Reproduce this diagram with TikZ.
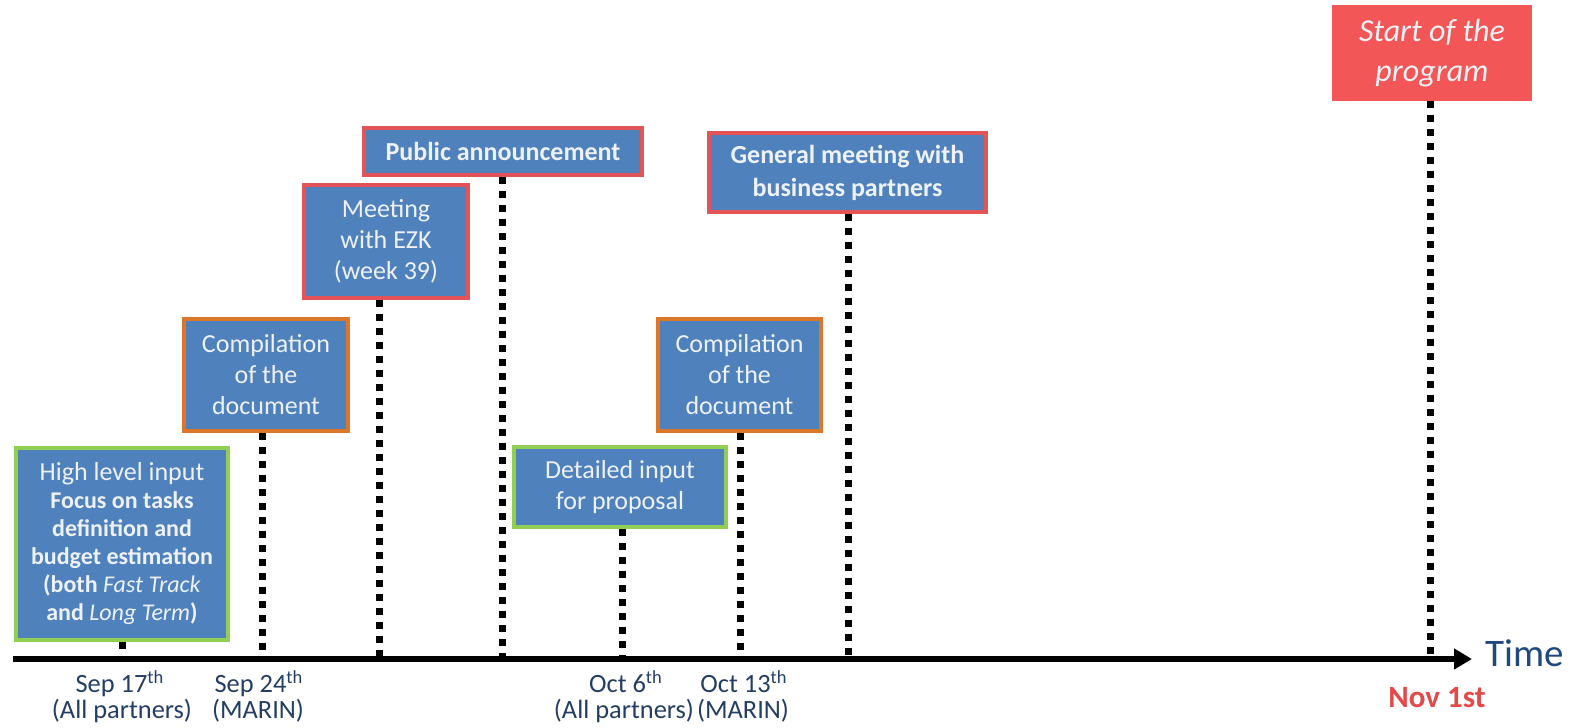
\documentclass[tikz,border=0pt]{standalone}
\usepackage{fontspec}
\setmainfont{Carlito}
\usetikzlibrary{arrows.meta}

\definecolor{boxblue}{RGB}{79,129,189}
\definecolor{boxtext}{RGB}{238,242,246}
\definecolor{redline}{RGB}{226,84,88}
\definecolor{greenline}{RGB}{146,206,84}
\definecolor{orangeline}{RGB}{220,118,40}
\definecolor{startred}{RGB}{242,86,86}
\definecolor{datetext}{RGB}{35,62,98}
\definecolor{timetext}{RGB}{31,73,125}
\definecolor{novred}{RGB}{228,72,72}

\begin{document}
\begin{tikzpicture}[x=0.5pt,y=-0.5pt]
	% styles for the boxes, the dotted markers and the labels
	\tikzset{
		event/.style={draw=#1, fill=boxblue, line width=2pt, text=boxtext,
			align=center, inner sep=0pt, font=\fontsize{13}{15.5}\selectfont},
		marker/.style={line width=3.5pt, dash pattern=on 3.5pt off 3.5pt},
		timeaxis/.style={line width=3pt, -{Triangle[length=9pt,width=10pt]}},
		datelbl/.style={text=datetext, anchor=base, inner sep=0pt,
			font=\fontsize{13.2}{15}\selectfont}
	}

	% fix the page to the reference size
	\useasboundingbox (0,0) rectangle (1571,728);

	% points on the time axis
	\coordinate (origin) at (13,659);
	\coordinate (tip) at (1472,659);
	\coordinate (sep17) at (122,659);
	\coordinate (sep24) at (262,659);
	\coordinate (wk39) at (379,659);
	\coordinate (ann) at (502,659);
	\coordinate (oct6) at (622,659);
	\coordinate (oct13) at (740,659);
	\coordinate (gen) at (848,659);
	\coordinate (nov1) at (1430,659);

	% the boxes
	\node[event=greenline, minimum width=106pt, minimum height=96pt,
		font=\fontsize{12}{14}\selectfont] (hli) at (122,544)
		{{\fontsize{13}{14}\selectfont High level input}\\\textbf{Focus on tasks}\\\textbf{definition and}\\
		\textbf{budget estimation}\\\textbf{(both \textmd{\textit{Fast Track}}}\\
		\textbf{and \textmd{\textit{Long Term}})}};
	\node[event=orangeline, minimum width=82pt, minimum height=56pt] (comp1) at (266,375)
		{Compilation\\of the\\document};
	\node[event=redline, minimum width=82pt, minimum height=56.5pt] (ezk) at (386,241.5)
		{Meeting\\with EZK\\(week 39)};
	\node[event=redline, minimum width=139pt, minimum height=23.5pt] (pub) at (503,151.5)
		{\textbf{Public announcement}};
	\node[event=greenline, minimum width=106pt, minimum height=40pt] (detail) at (620,487)
		{Detailed input\\for proposal};
	\node[event=orangeline, minimum width=81.5pt, minimum height=56pt] (comp2) at (739.5,375)
		{Compilation\\of the\\document};
	\node[event=redline, minimum width=138.5pt, minimum height=39.5pt,
		font=\fontsize{13}{16.5}\selectfont] (meet) at (847.5,172.5)
		{\textbf{General meeting with}\\\textbf{business partners}};
	\node[fill=startred, text=boxtext, align=center, inner sep=0pt,
		minimum width=100pt, minimum height=48pt,
		font=\fontsize{16}{20}\selectfont\itshape] (start) at (1432,53)
		{Start of the\\program};

	% dotted markers down to the axis
	\draw[marker] (hli.south -| sep17) -- (sep17);
	\draw[marker] (comp1.south -| sep24) -- (sep24);
	\draw[marker] (ezk.south -| wk39) -- (wk39);
	\draw[marker] (pub.south -| ann) -- (ann);
	\draw[marker] (detail.south -| oct6) -- (oct6);
	\draw[marker] (comp2.south -| oct13) -- (oct13);
	\draw[marker] (meet.south -| gen) -- (gen);
	\draw[marker] (start.south -| nov1) -- (nov1);

	% time axis
	\draw[timeaxis] (origin) -- (tip);
	\node[text=timetext, anchor=base west, inner sep=0pt,
		font=\fontsize{19.5}{22}\selectfont] (time) at (1485,666) {Time};

	% dates
	\node[datelbl] (d17) at (120,692) {Sep 17\textsuperscript{th}};
	\node[datelbl] (p17) at (122,718) {(All partners)};
	\node[datelbl] (d24) at (259,692) {Sep 24\textsuperscript{th}};
	\node[datelbl] (p24) at (258,718) {(MARIN)};
	\node[datelbl] (d6) at (626,692) {Oct 6\textsuperscript{th}};
	\node[datelbl] (p6) at (624,718) {(All partners)};
	\node[datelbl] (d13) at (744,692) {Oct 13\textsuperscript{th}};
	\node[datelbl] (p13) at (743,718) {(MARIN)};
	\node[text=novred, anchor=base, inner sep=0pt,
		font=\fontsize{15.5}{18}\selectfont\bfseries] (dnov) at (1437,707) {Nov 1st};

\end{tikzpicture}
\end{document}
